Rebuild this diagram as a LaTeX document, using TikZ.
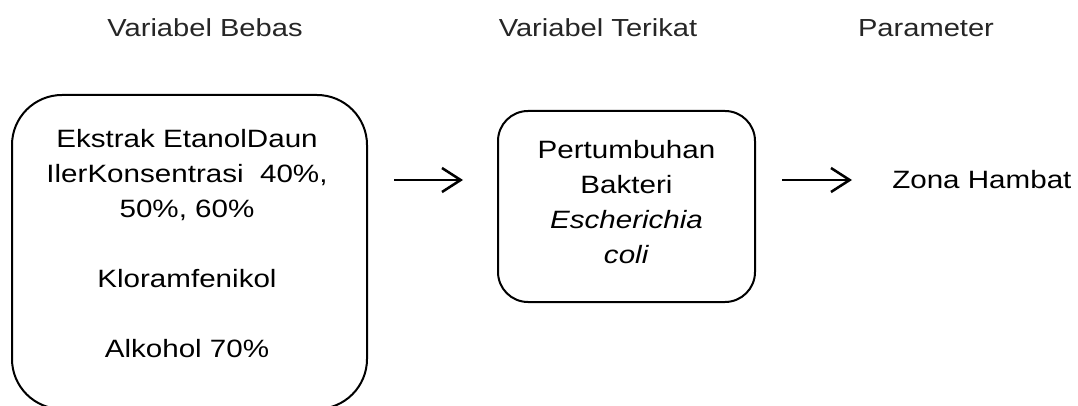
\documentclass[tikz,border=0pt]{standalone}
\usepackage{fontspec}
\setmainfont[FakeStretch=1.18]{Liberation Sans}
\usetikzlibrary{arrows.meta}

\begin{document}
\begin{tikzpicture}[x=0.75pt,y=-0.75pt,
    judul/.style={anchor=base, inner sep=0pt, text=black!85,
      font=\fontsize{18.5}{26.25}\selectfont},
    kotak/.style={draw, line width=1.5pt, inner sep=0pt},
    isi/.style={align=center, inner sep=0pt,
      font=\fontsize{18.8}{26.25}\selectfont},
    panah/.style={-{Straight Barb[length=14pt,width=18pt]}, line width=1.9pt}]
  \useasboundingbox (0,0) rectangle (1078,406);

  % judul kolom
  \node[judul] (bebas) at (205,37) {Variabel Bebas};
  \node[judul] (terikat) at (598,37) {Variabel Terikat};
  \node[judul] (param) at (926,37) {Parameter};

  % kotak variabel
  \node[kotak, rounded corners=37.5pt, minimum width=266.25pt, minimum height=235.5pt]
    (ekstrak) at (189.5,252) {};
  \node[isi] (ekstrak-t) at (187,244)
    {Ekstrak EtanolDaun\\ IlerKonsentrasi\ \ 40\%,\\ 50\%, 60\%\\[26.25pt]
     Kloramfenikol\\[26.25pt] Alkohol 70\%};
  \node[kotak, rounded corners=22.5pt, minimum width=192.75pt, minimum height=143.25pt]
    (bakteri) at (626.5,206.5) {};
  \node[isi] (bakteri-t) at (626.5,202)
    {Pertumbuhan\\ Bakteri\\ \textit{Escherichia}\\ \textit{coli}};
  \node[isi, anchor=base west] (zona) at (892,189) {Zona Hambat};

  % panah
  \coordinate (p1a) at (394,180);
  \coordinate (p1b) at (463,180);
  \coordinate (p2a) at (782,180);
  \coordinate (p2b) at (852,180);
  \draw[panah] (p1a) -- (p1b);
  \draw[panah] (p2a) -- (p2b);
\end{tikzpicture}
\end{document}
